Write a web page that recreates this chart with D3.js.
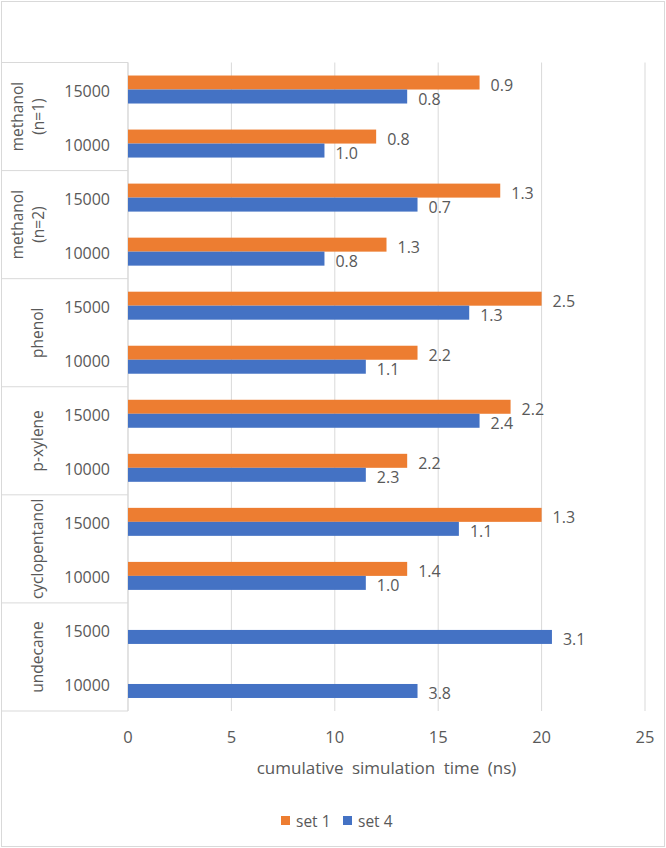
<!DOCTYPE html>
<html><head><meta charset="utf-8">
<script src="https://cdn.jsdelivr.net/npm/d3@7"></script>
<style>html,body{margin:0;padding:0;background:#fff;}text{font-family:"Open Sans",sans-serif;fill:#595959;}</style>
</head><body>
<svg id="c" width="666" height="848"></svg>
<script>
const groups = [["methanol","(n=1)"],["methanol","(n=2)"],["phenol"],["p-xylene"],["cyclopentanol"],["undecane"]];
const sizes = ["15000","10000"];
const seriesNames = ["set 1","set 4"];
const set1 = [17, 12, 18, 12.5, 20, 14, 18.5, 13.5, 20, 13.5, null, null];
const set4 = [13.5, 9.5, 14, 9.5, 16.5, 11.5, 17, 11.5, 16, 11.5, 20.5, 14];
const set1Labels = ["0.9","0.8","1.3","1.3","2.5","2.2","2.2","2.2","1.3","1.4",null,null];
const set4Labels = ["0.8","1.0","0.7","0.8","1.3","1.1","2.4","2.3","1.1","1.0","3.1","3.8"];
const xTicks = [0,5,10,15,20,25];
const colors = {"set 1":"#ED7D31","set 4":"#4472C4"};
const grid = "#d9d9d9";

const svg = d3.select("#c");
const L=128, R=645, T=62.5, B=711;
const cats = [];
groups.forEach((g,gi)=>sizes.forEach((s,si)=>cats.push({key:gi+"-"+si, g:gi, size:s})));

const x = d3.scaleLinear().domain([0,25]).range([L,R]);
const p = 0.482;
const y = d3.scaleBand().domain(cats.map(c=>c.key)).range([T,B]).paddingInner(p).paddingOuter(p/2);
const ys = d3.scaleBand().domain(seriesNames).range([0,y.bandwidth()]);
const gy = d3.scaleBand().domain(groups.map((g,i)=>i)).range([T,B]);

// outer border
svg.append("rect").attr("x",1.5).attr("y",1.5).attr("width",663).attr("height",845).attr("fill","none").attr("stroke",grid);

// gridlines
svg.append("g").selectAll("line").data(xTicks).join("line")
  .attr("x1",d=>x(d)).attr("x2",d=>x(d)).attr("y1",T).attr("y2",B)
  .attr("stroke",grid).attr("stroke-width",1);

// table lines
const tb = svg.append("g").attr("stroke",grid).attr("stroke-width",1);
const bounds = groups.map((g,i)=>gy(i)).concat([B]);
tb.selectAll("line.h").data(bounds).join("line").attr("class","h")
  .attr("x1",1.5).attr("x2",L).attr("y1",d=>d).attr("y2",d=>d);
tb.append("line").attr("x1",L).attr("x2",L).attr("y1",T).attr("y2",B);

// bars
const data = [];
cats.forEach((c,i)=>{
  if(set1[i]!=null) data.push({cat:c.key, s:"set 1", v:set1[i], lab:set1Labels[i]});
  if(set4[i]!=null) data.push({cat:c.key, s:"set 4", v:set4[i], lab:set4Labels[i]});
});
svg.append("g").selectAll("rect").data(data).join("rect")
  .attr("x",x(0)).attr("y",d=>y(d.cat)+ys(d.s))
  .attr("width",d=>x(d.v)-x(0)).attr("height",ys.bandwidth())
  .attr("fill",d=>colors[d.s]);
svg.append("g").selectAll("text").data(data).join("text")
  .attr("x",d=>x(d.v)+11).attr("y",d=>y(d.cat)+ys(d.s)+ys.bandwidth()/2+2)
  .attr("dominant-baseline","central").attr("font-size",16)
  .text(d=>d.lab);

// category labels
svg.append("g").selectAll("text").data(cats).join("text")
  .attr("x",110).attr("y",c=>y(c.key)+y.bandwidth()/2+1)
  .attr("text-anchor","end").attr("dominant-baseline","central").attr("font-size",16)
  .text(c=>c.size);

// group labels
groups.forEach((g,i)=>{
  const cy = gy(i)+gy.bandwidth()/2;
  const bases = g.length===2 ? [23,43.5] : [43];
  g.forEach((line,li)=>{
    svg.append("text").attr("transform",`translate(${bases[li]},${cy}) rotate(-90)`)
      .attr("text-anchor","middle").attr("font-size",15.5).text(line);
  });
});

// x axis labels
svg.append("g").selectAll("text").data(xTicks).join("text")
  .attr("x",d=>x(d)).attr("y",736).attr("text-anchor","middle").attr("dominant-baseline","central")
  .attr("font-size",16.5).text(d=>d);
svg.append("text").attr("x",(L+R)/2).attr("y",767).attr("text-anchor","middle").attr("dominant-baseline","central")
  .attr("font-size",17).attr("word-spacing",4).text("cumulative simulation time (ns)");

// legend
const lg = svg.append("g");
const lx = [281, 343];
seriesNames.forEach((s,i)=>{
  lg.append("rect").attr("x",lx[i]).attr("y",816).attr("width",9).attr("height",9).attr("fill",colors[s]);
  lg.append("text").attr("x",lx[i]+15).attr("y",821).attr("dominant-baseline","central").attr("font-size",15.5).text(s);
});
</script>
</body></html>
